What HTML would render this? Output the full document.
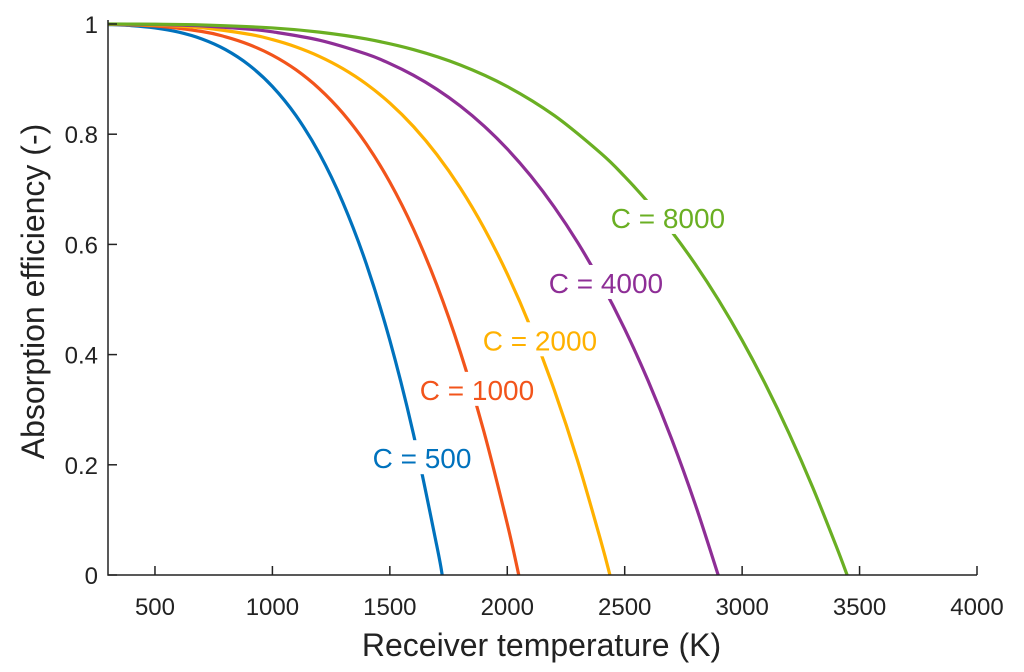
<!DOCTYPE html>
<html><head><meta charset="utf-8"><style>
html,body{margin:0;padding:0;background:#fff;}
svg{display:block;font-family:"Liberation Sans",Arial,sans-serif;}
</style></head><body>
<svg id="chart" width="1024" height="672" viewBox="0 0 1024 672" xmlns="http://www.w3.org/2000/svg"></svg>
<script>
const xTicks=[500,1000,1500,2000,2500,3000,3500,4000];
const yTicks=[0,0.2,0.4,0.6,0.8,1];
const yTickLabels=["0","0.2","0.4","0.6","0.8","1"];
const seriesNames=["C = 500","C = 1000","C = 2000","C = 4000","C = 8000"];
const colors=["#0072BD","#F2541B","#FFB100","#8E2E96","#6AAF23"];
const t500=[300,400,500,600,700,800,900,1000,1100,1200,1300,1400,1500,1600,1700,1723];
const v500=[0.9991,0.9971,0.9929,0.9853,0.9728,0.9536,0.9256,0.8866,0.8340,0.7649,0.6761,0.5644,0.4259,0.2568,0.0529,0];
const t1000=[300,500,700,800,900,1000,1100,1200,1300,1400,1500,1600,1700,1800,1900,2000,2049];
const v1000=[0.9995,0.9965,0.9864,0.9768,0.9628,0.9433,0.9170,0.8824,0.8381,0.7822,0.7130,0.6284,0.5264,0.4048,0.2611,0.0928,0];
const t2000=[300,500,700,900,1000,1100,1200,1300,1400,1500,1600,1700,1800,1900,2000,2100,2200,2300,2400,2437];
const v2000=[0.9998,0.9982,0.9932,0.9814,0.9717,0.9585,0.9412,0.9190,0.8911,0.8565,0.8142,0.7632,0.7024,0.6305,0.5464,0.4487,0.3359,0.2067,0.0594,0];
const t4000=[300,500,700,900,1000,1200,1400,1500,1600,1700,1800,1900,2000,2100,2200,2300,2400,2500,2600,2700,2800,2898];
const v4000=[0.9999,0.9991,0.9966,0.9907,0.9858,0.9706,0.9455,0.9282,0.9071,0.8816,0.8512,0.8153,0.7732,0.7243,0.6679,0.6033,0.5297,0.4463,0.3522,0.2467,0.1287,0];
const t8000=[300,500,700,1000,1200,1400,1600,1800,2000,2200,2400,2500,2600,2700,2800,2900,3000,3100,3200,3300,3400,3447];
const v8000=[1.0,0.9996,0.9983,0.9929,0.9853,0.9728,0.9536,0.9256,0.8866,0.8340,0.7649,0.7231,0.6761,0.6233,0.5644,0.4987,0.4259,0.3455,0.2568,0.1595,0.0529,0];
const labelPos=[[1637,0.212],[1871,0.336],[2139,0.426],[2420,0.530],[2684,0.648]];

const svg=document.getElementById('chart');
const NS="http://www.w3.org/2000/svg";
const X0=108,X1=977,Y0=575,Y1=24,xmin=300,xmax=4000;
const sx=v=>X0+(v-xmin)/(xmax-xmin)*(X1-X0);
const sy=v=>Y0-v*(Y0-Y1);
function mk(tag,attrs,parent){const e=document.createElementNS(NS,tag);for(const k in attrs)e.setAttribute(k,attrs[k]);(parent||svg).appendChild(e);return e;}

const series=[[t500,v500],[t1000,v1000],[t2000,v2000],[t4000,v4000],[t8000,v8000]];
const gLines=mk('g',{});


series.forEach((s,i)=>{
  const pts=s[0].map((t,j)=>[sx(t),sy(s[1][j])]);
  let d=`M${pts[0][0]},${pts[0][1]}`;
  for(let j=0;j<pts.length-1;j++){
    const p0=pts[Math.max(0,j-1)],p1=pts[j],p2=pts[j+1],p3=pts[Math.min(pts.length-1,j+2)];
    const c1=[p1[0]+(p2[0]-p0[0])/6,p1[1]+(p2[1]-p0[1])/6];
    const c2=[p2[0]-(p3[0]-p1[0])/6,p2[1]-(p3[1]-p1[1])/6];
    d+=` C${c1[0]},${c1[1]} ${c2[0]},${c2[1]} ${p2[0]},${p2[1]}`;
  }
  const p=mk('path',{d:d,fill:'none',stroke:colors[i],'stroke-width':3.2,'stroke-linejoin':'round'},gLines);
  
  
});
seriesNames.forEach((n,i)=>{
  const cx=sx(labelPos[i][0]),cy=sy(labelPos[i][1]);
  const w=n.length*15.6+8;
  const r=mk('rect',{x:cx-w/2,y:cy-18,width:w,height:34,fill:'#fff'});
  
  
  const t=mk('text',{x:cx,y:cy+10,'text-anchor':'middle','font-size':28,fill:colors[i]});
  t.textContent=n;
  
  
});
const ax=mk('path',{d:`M${X0},${Y1-4}V${Y0}H${X1}`,fill:'none',stroke:'#222','stroke-width':1.5});


xTicks.forEach(v=>{
  const tk=mk('line',{x1:sx(v),x2:sx(v),y1:Y0,y2:Y0-9,stroke:'#222','stroke-width':1.5});
  
  
  const t=mk('text',{x:sx(v),y:Y0+40,'text-anchor':'middle','font-size':24,fill:'#222'});
  t.textContent=v;
  
  
});
yTicks.forEach((v,i)=>{
  const tk=mk('line',{x1:X0,x2:X0+9,y1:sy(v),y2:sy(v),stroke:'#222','stroke-width':1.5});
  
  
  const t=mk('text',{x:X0-10,y:sy(v)+9,'text-anchor':'end','font-size':24,fill:'#222'});
  t.textContent=yTickLabels[i];
  
  
});
const xt=mk('text',{x:(X0+X1)/2-1,y:656,'text-anchor':'middle','font-size':32,fill:'#222'});
xt.textContent='Receiver temperature (K)';


const yt=mk('text',{x:0,y:0,'text-anchor':'middle','font-size':32,fill:'#222',transform:`translate(44,${(Y0+Y1)/2-8}) rotate(-90)`});
yt.textContent='Absorption efficiency (-)';


</script>
</body></html>
